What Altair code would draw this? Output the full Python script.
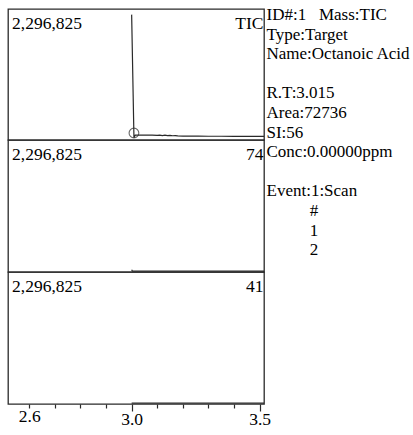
import altair as alt
import pandas as pd

# ---- data ----
rt_domain = [2.517, 3.517]
y_max = 2400000
panel_max_label = "2,296,825"
panel_names = ["TIC", "74", "41"]

tic_rt = [3.000, 3.009, 3.014, 3.025, 3.040, 3.060, 3.080, 3.100, 3.110, 3.120, 3.130,
          3.140, 3.150, 3.160, 3.170, 3.180, 3.200, 3.220, 3.260, 3.300, 3.350, 3.400,
          3.450, 3.517]
tic_val = [2296825, 40000, 88000, 90000, 89000, 88000, 88000, 86000, 90000, 82000, 88000,
           80000, 86000, 78000, 80000, 74000, 72000, 70000, 70000, 69000, 69000, 68000,
           68000, 68000]

m74_rt = [3.000, 3.003, 3.006, 3.517]
m74_val = [40000, 16000, 16000, 16000]

m41_rt = [3.000, 3.517]
m41_val = [16000, 16000]

peak_rt = [3.009]
peak_val = [128000]

info_block1 = ["ID#:1\u00a0\u00a0\u00a0Mass:TIC", "Type:Target", "Name:Octanoic Acid"]
info_block2 = ["R.T:3.015", "Area:72736", "SI:56", "Conc:0.00000ppm"]
info_block3 = ["Event:1:Scan"]
event_rows = ["#", "1", "2"]

tick_values = [2.6, 2.7, 2.8, 2.9, 3.0, 3.1, 3.2, 3.3, 3.4, 3.5]
tick_labels = ["2.6", "3.0", "3.5"]

FONT = "Liberation Serif"
FS = 17.5
FS_INFO = 17
LH = 19.6
INK = "#2a2a2a"

x_scale = alt.Scale(domain=rt_domain, nice=False, zero=False)
y_scale = alt.Scale(domain=[0, y_max], nice=False, zero=True)

label_expr = ("indexof(" + str(tick_labels) + ", format(datum.value, '.1f')) >= 0 "
              "? format(datum.value, '.1f') : ''")


def text_block(lines, x, y, align="left", size=FS):
    return alt.Chart(pd.DataFrame({"t": ["\n".join(lines)]})).mark_text(
        align=align, baseline="alphabetic", font=FONT, fontSize=size, color="black",
        lineBreak="\n", lineHeight=LH
    ).encode(x=alt.value(x), y=alt.value(y), text="t:N")


def panel(rt, val, name, with_axis):
    df = pd.DataFrame({"rt": rt, "v": val})
    if with_axis:
        xaxis = alt.Axis(
            values=tick_values,
            labelExpr=label_expr,
            grid=False,
            domain=False,
            title=None,
            labelFont=FONT,
            labelFontSize=FS,
            labelColor="black",
            labelPadding=-1,
            labelFlush=False,
            labelOverlap=False,
            tickColor=INK,
            tickWidth=1.2,
            tickSize={"condition": {"test": "datum.value == 3 || datum.value == 3.5", "value": 7},
                      "value": 4},
        )
    else:
        xaxis = None
    line = alt.Chart(df).mark_line(color=INK, strokeWidth=1.2).encode(
        x=alt.X("rt:Q", scale=x_scale, axis=xaxis),
        y=alt.Y("v:Q", scale=y_scale, axis=None),
    )
    top_lbl = text_block([panel_max_label], 4, 19.5)
    name_lbl = text_block([name], 255.5, 19.5, align="right")
    return [line, top_lbl, name_lbl]


peak = alt.Chart(pd.DataFrame({"rt": peak_rt, "v": peak_val})).mark_point(
    shape="circle", size=95, filled=False, color=INK, strokeWidth=1.1
).encode(x=alt.X("rt:Q", scale=x_scale, axis=None), y=alt.Y("v:Q", scale=y_scale, axis=None))

info1 = text_block(info_block1, 258.5, 11, size=FS_INFO)
info2 = text_block(info_block2, 258.5, 11 + 4 * LH, size=FS_INFO)
info3 = text_block(info_block3, 258.5, 11 + 9 * LH, size=FS_INFO)
rows = text_block(event_rows, 306, 11 + 10 * LH, align="center", size=FS_INFO)

p1 = alt.layer(*panel(tic_rt, tic_val, panel_names[0], False), peak, info1, info2, info3, rows
               ).properties(width=256, height=131)
p2 = alt.layer(*panel(m74_rt, m74_val, panel_names[1], False)).properties(width=256, height=132)
p3 = alt.layer(*panel(m41_rt, m41_val, panel_names[2], True)).properties(width=256, height=132)

chart = alt.vconcat(p1, p2, p3, spacing=0, bounds="flush").properties(
    padding={"left": 7, "top": 5, "right": 0, "bottom": 0}
).configure_view(stroke=INK, strokeWidth=1.3)

chart.save("out.html", embed_options={"renderer": "svg", "actions": False})
